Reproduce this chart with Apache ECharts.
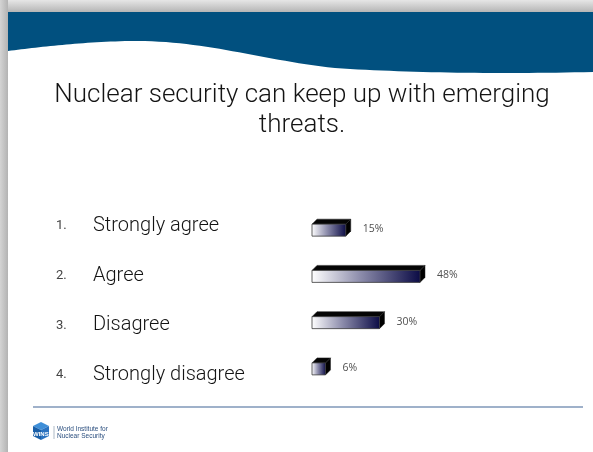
<!DOCTYPE html>
<html>
<head>
<meta charset="utf-8">
<script src="https://cdn.jsdelivr.net/npm/echarts@6/dist/echarts.min.js"></script>
<style>
  html, body { margin: 0; padding: 0; background: #fff; }
  #chart { width: 593px; height: 452px; }
</style>
</head>
<body>
<div id="chart"></div>
<script>
// Survey answers and their shares (percent)
const categories = ['Strongly agree', 'Agree', 'Disagree', 'Strongly disagree'];
const shares = [15, 48, 30, 6];
const numbers = ['1.', '2.', '3.', '4.'];
const titleText = 'Nuclear security can keep up with emerging\nthreats.';

const chart = echarts.init(document.getElementById('chart'), null, { renderer: 'canvas' });

const FRONT_H = 12;   // height of the bar's front face
const DEPTH = 5;      // 3D extrusion offset

function renderBar(params, api) {
  const idx = api.value(0);
  const val = api.value(1);
  const p0 = api.coord([0, idx]);
  const p1 = api.coord([val, idx]);
  const x0 = p0[0], x1 = p1[0], cy = p0[1];
  const yTop = cy - FRONT_H / 2, yBot = cy + FRONT_H / 2;
  return {
    type: 'group',
    children: [
      {
        type: 'polygon',
        shape: { points: [[x0, yTop], [x0 + DEPTH, yTop - DEPTH], [x1 + DEPTH, yTop - DEPTH], [x1, yTop]] },
        style: { fill: '#050505', stroke: '#222', lineWidth: 0.5 }
      },
      {
        type: 'polygon',
        shape: { points: [[x1, yTop], [x1 + DEPTH, yTop - DEPTH], [x1 + DEPTH, yBot - DEPTH], [x1, yBot]] },
        style: { fill: '#000', stroke: '#222', lineWidth: 0.5 }
      },
      {
        type: 'rect',
        shape: { x: x0, y: yTop, width: x1 - x0, height: FRONT_H },
        style: {
          fill: new echarts.graphic.LinearGradient(0, 0, 1, 0, [
            { offset: 0, color: '#ffffff' },
            { offset: 0.45, color: '#8c8cab' },
            { offset: 1, color: '#0b0b45' }
          ]),
          stroke: '#3a3a3a',
          lineWidth: 0.8
        }
      },
      {
        type: 'text',
        style: {
          x: x1 + DEPTH + 12,
          y: cy - 1,
          text: val + '%',
          fill: '#505050',
          font: '10.5px "Open Sans", "Liberation Sans", sans-serif',
          verticalAlign: 'middle'
        }
      }
    ]
  };
}

// Wavy lower edge of the header band, sampled from cubic Bezier segments
function bezierPoints(segs, steps) {
  const pts = [];
  segs.forEach(function (s) {
    for (let k = 0; k <= steps; k++) {
      const t = k / steps, u = 1 - t;
      const x = u * u * u * s[0][0] + 3 * u * u * t * s[1][0] + 3 * u * t * t * s[2][0] + t * t * t * s[3][0];
      const y = u * u * u * s[0][1] + 3 * u * u * t * s[1][1] + 3 * u * t * t * s[2][1] + t * t * t * s[3][1];
      pts.push([x, y]);
    }
  });
  return pts;
}
const waveEdge = bezierPoints([
  [[593, 72], [500, 74], [410, 73], [335, 68]],
  [[335, 68], [260, 60], [205, 40], [130, 41]],
  [[130, 41], [80, 42], [40, 47], [8, 51]]
], 30);
const bandPoints = [[8, 12], [593, 12]].concat(waveEdge);

const option = {
  animation: false,
  backgroundColor: '#ffffff',
  title: {
    text: titleText,
    left: 297,
    top: 75,
    textAlign: 'center',
    textStyle: {
      fontFamily: 'Roboto, "Liberation Sans", sans-serif',
      fontWeight: 300,
      fontSize: 26,
      lineHeight: 30,
      color: '#141414'
    }
  },
  graphic: [
    // drop shadow strips around the slide
    {
      type: 'rect', z: -10, silent: true,
      shape: { x: 0, y: 0, width: 593, height: 12 },
      style: { fill: new echarts.graphic.LinearGradient(0, 0, 0, 1, [
        { offset: 0, color: '#e6e6e6' }, { offset: 1, color: '#b5b5b5' }]) }
    },
    {
      type: 'rect', z: -10, silent: true,
      shape: { x: 0, y: 0, width: 8, height: 452 },
      style: { fill: new echarts.graphic.LinearGradient(0, 0, 1, 0, [
        { offset: 0, color: '#d4d4d4' }, { offset: 1, color: '#b3b3b3' }]) }
    },
    // wavy header band
    {
      type: 'polygon', z: -5, silent: true,
      shape: { points: bandPoints },
      style: { fill: '#01507f' }
    },
    // footer rule
    {
      type: 'line', silent: true,
      shape: { x1: 33, y1: 407, x2: 583, y2: 407 },
      style: { stroke: '#7f97b8', lineWidth: 1.5 }
    },
    // logo: cube mark and name
    {
      type: 'group', silent: true, x: 33, y: 422,
      children: [
        { type: 'polygon', shape: { points: [[8, 0], [16, 4], [8, 8], [0, 4]] }, style: { fill: '#3f8fd8' } },
        { type: 'polygon', shape: { points: [[0, 4], [8, 8], [8, 18], [0, 14]] }, style: { fill: '#1a5fa8' } },
        { type: 'polygon', shape: { points: [[8, 8], [16, 4], [16, 14], [8, 18]] }, style: { fill: '#2a72c0' } },
        { type: 'text', style: { x: 0, y: 9, text: 'WINS', fill: '#ffffff', font: 'bold 6px "Liberation Sans", sans-serif' } },
        { type: 'line', shape: { x1: 21, y1: 4, x2: 21, y2: 17 }, style: { stroke: '#9aa8b8', lineWidth: 0.8 } },
        { type: 'text', style: { x: 24, y: 4, text: 'World Institute for', fill: '#2b4f7f', font: '6.5px "Liberation Sans", sans-serif' } },
        { type: 'text', style: { x: 24, y: 11, text: 'Nuclear Security', fill: '#2b4f7f', font: '6.5px "Liberation Sans", sans-serif' } }
      ]
    }
  ],
  grid: [
    { left: 312, top: 207, width: 225, height: 185 },
    { left: 56, top: 201, width: 10, height: 199 }
  ],
  xAxis: [
    { gridIndex: 0, type: 'value', min: 0, max: 100, show: false },
    { gridIndex: 1, type: 'value', min: 0, max: 1, show: false }
  ],
  yAxis: [
    { gridIndex: 0, type: 'category', data: categories, inverse: true, show: false },
    {
      gridIndex: 1, type: 'category', data: categories, inverse: true,
      axisLine: { show: false }, axisTick: { show: false }, splitLine: { show: false },
      axisLabel: {
        inside: true,
        margin: 0,
        align: 'left',
        formatter: function (value, i) {
          return '{n|' + numbers[i] + '}{t|' + value + '}';
        },
        rich: {
          n: { fontSize: 13, color: '#444', width: 37, fontFamily: 'Roboto, "Liberation Sans", sans-serif' },
          t: { fontSize: 20, color: '#141414', fontWeight: 300, fontFamily: 'Roboto, "Liberation Sans", sans-serif' }
        }
      }
    }
  ],
  series: [
    {
      type: 'custom',
      xAxisIndex: 0,
      yAxisIndex: 0,
      renderItem: renderBar,
      data: shares.map(function (v, i) { return [i, v]; })
    }
  ]
};

chart.setOption(option);
</script>
</body>
</html>
